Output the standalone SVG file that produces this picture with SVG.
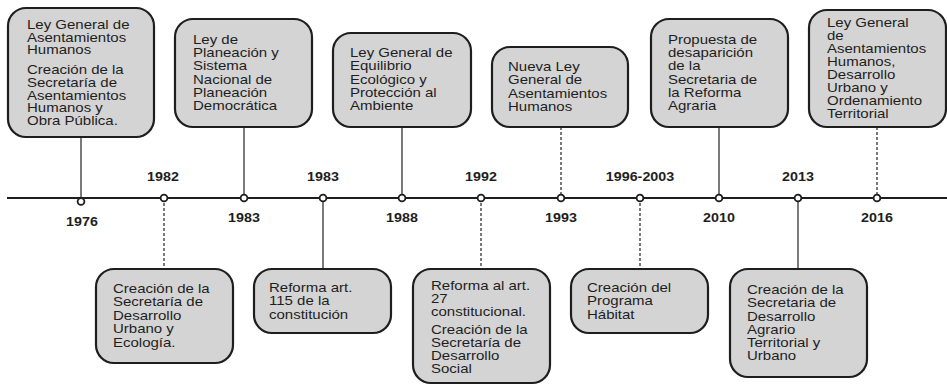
<svg xmlns="http://www.w3.org/2000/svg" width="947" height="385" viewBox="0 0 947 385">
<style>
.box{fill:#d4d4d4;stroke:#1e1e1e;stroke-width:2.2}
.t{font-family:"Liberation Sans",Arial,sans-serif;font-size:12.5px;fill:#1e1e1e}
.yr{font-family:"Liberation Sans",Arial,sans-serif;font-size:13px;font-weight:bold;fill:#1e1e1e;text-anchor:middle}
.solid{stroke:#333;stroke-width:1.3;fill:none}
.dash{stroke:#333;stroke-width:1.3;fill:none;stroke-dasharray:3 2}
.dot{fill:#fff;stroke:#1e1e1e;stroke-width:1.8}
</style>
<rect width="947" height="385" fill="#fff"/>
<g id="connectors">
<line class="solid" x1="81" y1="137" x2="81" y2="201"/>
<line class="solid" x1="244" y1="127" x2="244" y2="198"/>
<line class="solid" x1="402" y1="127" x2="402" y2="198"/>
<line class="dash" x1="561" y1="127" x2="561" y2="198"/>
<line class="solid" x1="719" y1="127" x2="719" y2="198"/>
<line class="dash" x1="877" y1="127" x2="877" y2="198"/>
<line class="dash" x1="164" y1="198" x2="164" y2="269"/>
<line class="solid" x1="323" y1="198" x2="323" y2="269"/>
<line class="dash" x1="481" y1="198" x2="481" y2="269"/>
<line class="dash" x1="640" y1="198" x2="640" y2="269"/>
<line class="solid" x1="798" y1="198" x2="798" y2="269"/>
</g>
<g id="timeline">
<line x1="7" y1="198" x2="947" y2="198" stroke="#1e1e1e" stroke-width="2"/>
<circle class="dot" cx="81" cy="201.5" r="3.4"/>
<circle class="dot" cx="164" cy="198" r="3.4"/>
<circle class="dot" cx="244" cy="198" r="3.4"/>
<circle class="dot" cx="323" cy="198" r="3.4"/>
<circle class="dot" cx="402" cy="198" r="3.4"/>
<circle class="dot" cx="481" cy="198" r="3.4"/>
<circle class="dot" cx="561" cy="198" r="3.4"/>
<circle class="dot" cx="640" cy="198" r="3.4"/>
<circle class="dot" cx="719" cy="198" r="3.4"/>
<circle class="dot" cx="798" cy="198" r="3.4"/>
<circle class="dot" cx="877" cy="198" r="3.4"/>
</g>
<g id="years">
<g transform="translate(82,0) scale(1.1,1)"><text class="yr" x="0" y="226.5">1976</text></g>
<g transform="translate(163,0) scale(1.1,1)"><text class="yr" x="0" y="181.5">1982</text></g>
<g transform="translate(244,0) scale(1.1,1)"><text class="yr" x="0" y="222.5">1983</text></g>
<g transform="translate(323,0) scale(1.1,1)"><text class="yr" x="0" y="181.5">1983</text></g>
<g transform="translate(402,0) scale(1.1,1)"><text class="yr" x="0" y="222.5">1988</text></g>
<g transform="translate(481,0) scale(1.1,1)"><text class="yr" x="0" y="181.5">1992</text></g>
<g transform="translate(561,0) scale(1.1,1)"><text class="yr" x="0" y="222.5">1993</text></g>
<g transform="translate(640,0) scale(1.1,1)"><text class="yr" x="0" y="181.5">1996-2003</text></g>
<g transform="translate(719,0) scale(1.1,1)"><text class="yr" x="0" y="222.5">2010</text></g>
<g transform="translate(798,0) scale(1.1,1)"><text class="yr" x="0" y="181.5">2013</text></g>
<g transform="translate(877,0) scale(1.1,1)"><text class="yr" x="0" y="222.5">2016</text></g>
</g>
<g id="n1976">
<rect class="box" x="8" y="8" width="146" height="129" rx="18"/>
<g transform="translate(27,0) scale(1.2,1)"><text class="t">
<tspan x="0" y="29">Ley General de</tspan><tspan x="0" y="41.7">Asentamientos</tspan><tspan x="0" y="54.4">Humanos</tspan>
<tspan x="0" y="74.4">Creación de la</tspan><tspan x="0" y="87.1">Secretaría de</tspan><tspan x="0" y="99.8">Asentamientos</tspan><tspan x="0" y="112.5">Humanos y</tspan><tspan x="0" y="125.2">Obra Pública.</tspan>
</text></g>
</g>
<g id="n1983a">
<rect class="box" x="175" y="19" width="137" height="108" rx="18"/>
<g transform="translate(193,0) scale(1.2,1)"><text class="t">
<tspan x="0" y="44">Ley de</tspan><tspan x="0" y="57.2">Planeación y</tspan><tspan x="0" y="70.4">Sistema</tspan><tspan x="0" y="83.6">Nacional de</tspan><tspan x="0" y="96.8">Planeación</tspan><tspan x="0" y="110">Democrática</tspan>
</text></g>
</g>
<g id="n1988">
<rect class="box" x="333" y="33" width="138" height="94" rx="18"/>
<g transform="translate(350,0) scale(1.2,1)"><text class="t">
<tspan x="0" y="57">Ley General de</tspan><tspan x="0" y="70.3">Equilibrio</tspan><tspan x="0" y="83.6">Ecológico y</tspan><tspan x="0" y="96.9">Protección al</tspan><tspan x="0" y="110.2">Ambiente</tspan>
</text></g>
</g>
<g id="n1993">
<rect class="box" x="492" y="47" width="136" height="80" rx="18"/>
<g transform="translate(508,0) scale(1.2,1)"><text class="t">
<tspan x="0" y="71">Nueva Ley</tspan><tspan x="0" y="84.3">General de</tspan><tspan x="0" y="97.6">Asentamientos</tspan><tspan x="0" y="110.9">Humanos</tspan>
</text></g>
</g>
<g id="n2010">
<rect class="box" x="651" y="19" width="137" height="108" rx="18"/>
<g transform="translate(668,0) scale(1.2,1)"><text class="t">
<tspan x="0" y="44">Propuesta de</tspan><tspan x="0" y="57.2">desaparición</tspan><tspan x="0" y="70.4">de la</tspan><tspan x="0" y="83.6">Secretaria de</tspan><tspan x="0" y="96.8">la Reforma</tspan><tspan x="0" y="110">Agraria</tspan>
</text></g>
</g>
<g id="n2016">
<rect class="box" x="809" y="10" width="137" height="117" rx="18"/>
<g transform="translate(827,0) scale(1.2,1)"><text class="t">
<tspan x="0" y="27">Ley General</tspan><tspan x="0" y="40">de</tspan><tspan x="0" y="53">Asentamientos</tspan><tspan x="0" y="66">Humanos,</tspan><tspan x="0" y="79">Desarrollo</tspan><tspan x="0" y="92">Urbano y</tspan><tspan x="0" y="105">Ordenamiento</tspan><tspan x="0" y="118">Territorial</tspan>
</text></g>
</g>
<g id="n1982">
<rect class="box" x="96" y="269" width="137" height="94" rx="18"/>
<g transform="translate(113,0) scale(1.2,1)"><text class="t">
<tspan x="0" y="293">Creación de la</tspan><tspan x="0" y="306.5">Secretaría de</tspan><tspan x="0" y="320">Desarrollo</tspan><tspan x="0" y="333.5">Urbano y</tspan><tspan x="0" y="347">Ecología.</tspan>
</text></g>
</g>
<g id="n1983b">
<rect class="box" x="254" y="269" width="137" height="64" rx="18"/>
<g transform="translate(269,0) scale(1.2,1)"><text class="t">
<tspan x="0" y="292">Reforma art.</tspan><tspan x="0" y="305.5">115 de la</tspan><tspan x="0" y="319">constitución</tspan>
</text></g>
</g>
<g id="n1992">
<rect class="box" x="413" y="269" width="137" height="114" rx="18"/>
<g transform="translate(431,0) scale(1.2,1)"><text class="t">
<tspan x="0" y="290">Reforma al art.</tspan><tspan x="0" y="303">27</tspan><tspan x="0" y="316">constitucional.</tspan>
<tspan x="0" y="334">Creación de la</tspan><tspan x="0" y="347">Secretaría de</tspan><tspan x="0" y="360">Desarrollo</tspan><tspan x="0" y="373">Social</tspan>
</text></g>
</g>
<g id="n1996">
<rect class="box" x="571" y="269" width="137" height="64" rx="18"/>
<g transform="translate(587,0) scale(1.2,1)"><text class="t">
<tspan x="0" y="292">Creación del</tspan><tspan x="0" y="305.5">Programa</tspan><tspan x="0" y="319">Hábitat</tspan>
</text></g>
</g>
<g id="n2013">
<rect class="box" x="730" y="269" width="137" height="108" rx="18"/>
<g transform="translate(747,0) scale(1.2,1)"><text class="t">
<tspan x="0" y="294">Creación de la</tspan><tspan x="0" y="307.3">Secretaria de</tspan><tspan x="0" y="320.6">Desarrollo</tspan><tspan x="0" y="333.9">Agrario</tspan><tspan x="0" y="347.2">Territorial y</tspan><tspan x="0" y="360.5">Urbano</tspan>
</text></g>
</g>
</svg>
